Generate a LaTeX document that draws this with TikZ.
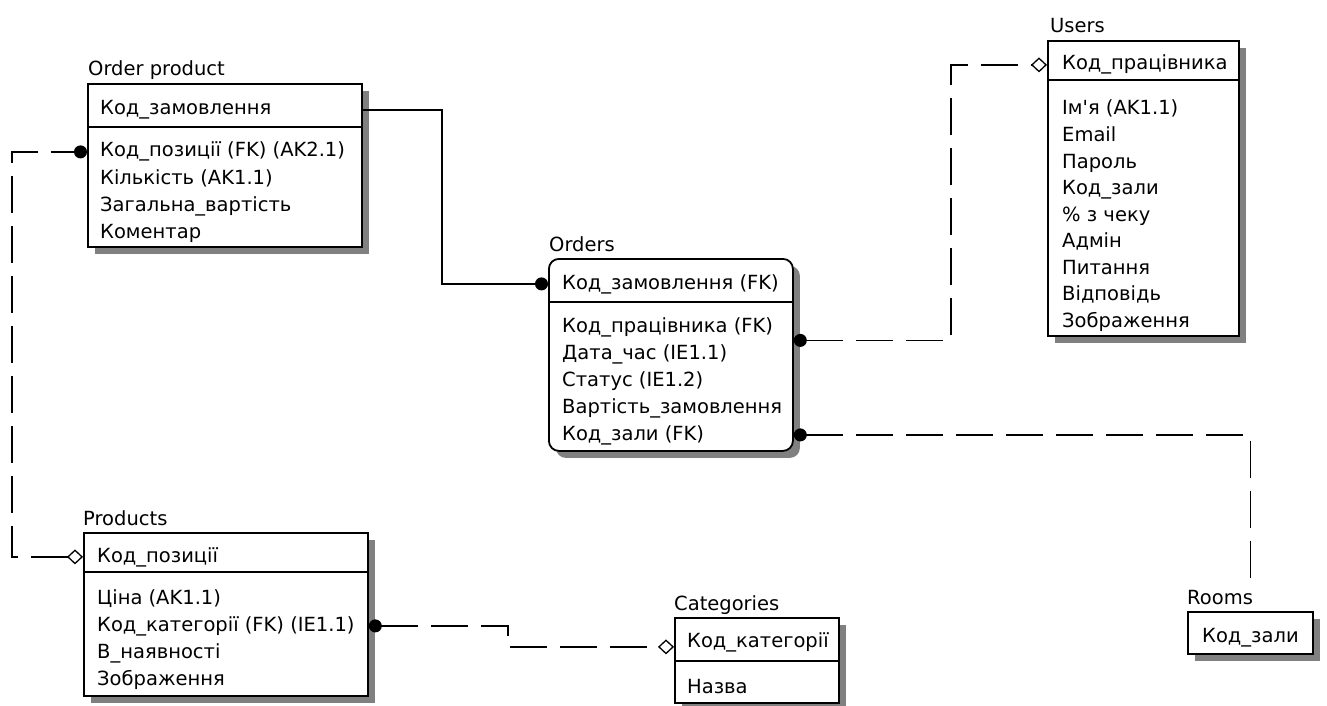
\documentclass[tikz,border=0pt]{standalone}
\usepackage{fontspec}
\setmainfont{DejaVu Sans}
\usetikzlibrary{arrows.meta, positioning, calc, shadows}

\begin{document}
\begin{tikzpicture}[
		x=1pt, y=-1pt,
		every node/.style={font=\fontsize{19.5}{27}\selectfont},
		entity/.style={draw, line width=1.8pt, fill=white, anchor=north west, inner sep=0pt,
			drop shadow={shadow xshift=7pt, shadow yshift=-7pt, fill=black!50, opacity=1}},
		enttitle/.style={anchor=base west, inner sep=0pt},
		attr/.style={anchor=base west, inner sep=0pt},
		divider/.style={line width=1.8pt},
		idrel/.style={line width=1.6pt, -{Circle[length=13pt]}},
		nonidrel/.style={line width=1.6pt, dash pattern=on 37pt off 13pt},
		fkdot/.tip={Circle[length=13pt]},
		nulldia/.tip={Diamond[open, length=16pt, width=15pt, line width=1.3pt]}
	]
	\useasboundingbox (0,0) rectangle (1327,706);

	% Order product
	\node[entity, minimum width=274pt, minimum height=163pt] (op) at (87,83) {};
	\node[enttitle] (op-t) at ($(op.north west)+(1,-7)$) {Order product};
	\draw[divider] ($(op.north west)+(0,44)$) -- ($(op.north east)+(0,44)$);
	\node[attr] (op-k) at ($(op.north west)+(13,32)$) {Код\_замовлення};
	\foreach \txt [count=\i] in {Код\_позиції (FK) (AK2.1), Кількість (AK1.1), Загальна\_вартість, Коментар}
		\node[attr] (op-\i) at ($(op.north west)+(13,47+27*\i)$) {\txt};

	% Orders
	\node[entity, rounded corners=10pt, minimum width=244pt, minimum height=192pt] (ord) at (548,258) {};
	\node[enttitle] (ord-t) at ($(ord.north west)+(1,-7)$) {Orders};
	\draw[divider] ($(ord.north west)+(0,44)$) -- ($(ord.north east)+(0,44)$);
	\node[attr] (ord-k) at ($(ord.north west)+(14,31)$) {Код\_замовлення (FK)};
	\foreach \txt [count=\i] in {Код\_працівника (FK), Дата\_час (IE1.1), Статус (IE1.2), Вартість\_замовлення, Код\_зали (FK)}
		\node[attr] (ord-\i) at ($(ord.north west)+(14,47+27*\i)$) {\txt};

	% Users
	\node[entity, minimum width=191pt, minimum height=295pt] (usr) at (1047,40) {};
	\node[enttitle] (usr-t) at ($(usr.north west)+(3,-7)$) {Users};
	\draw[divider] ($(usr.north west)+(0,40)$) -- ($(usr.north east)+(0,40)$);
	\node[attr] (usr-k) at ($(usr.north west)+(15,30)$) {Код\_працівника};
	\foreach \txt [count=\i] in {Ім\textquotesingle я (AK1.1), Email, Пароль, Код\_зали, \% з чеку, Адмін, Питання, Відповідь, Зображення}
		\node[attr] (usr-\i) at ($(usr.north west)+(15,48.5+26.5*\i)$) {\txt};

	% Products
	\node[entity, minimum width=284pt, minimum height=163pt] (prod) at (83,532) {};
	\node[enttitle] (prod-t) at ($(prod.north west)+(0,-7)$) {Products};
	\draw[divider] ($(prod.north west)+(0,40)$) -- ($(prod.north east)+(0,40)$);
	\node[attr] (prod-k) at ($(prod.north west)+(14,30)$) {Код\_позиції};
	\foreach \txt [count=\i] in {Ціна (AK1.1), Код\_категорії (FK) (IE1.1), В\_наявності, Зображення}
		\node[attr] (prod-\i) at ($(prod.north west)+(14,45+27*\i)$) {\txt};

	% Categories
	\node[entity, minimum width=164pt, minimum height=85pt] (cat) at (674,617) {};
	\node[enttitle] (cat-t) at ($(cat.north west)+(0,-7)$) {Categories};
	\draw[divider] ($(cat.north west)+(0,44)$) -- ($(cat.north east)+(0,44)$);
	\node[attr] (cat-k) at ($(cat.north west)+(13,30)$) {Код\_категорії};
	\node[attr] (cat-1) at ($(cat.north west)+(13,76)$) {Назва};

	% Rooms
	\node[entity, minimum width=125pt, minimum height=42pt] (room) at (1187,611) {};
	\node[enttitle] (room-t) at ($(room.north west)+(0,-7)$) {Rooms};
	\node[attr] (room-k) at ($(room.north west)+(15,31)$) {Код\_зали};

	% Relationships
	\coordinate (opbend) at (442,200);
	\coordinate (leftx) at (12,300);
	\coordinate (usrbend) at (951,200);
	\coordinate (catbend) at (508,630);

	\draw[idrel] (op.east |- op-k) -| (opbend) |- (ord.west |- ord-k);
	\draw[nonidrel, {nulldia}-{fkdot}] (prod.west |- prod-k) -| (leftx) |- (op.west |- op-1);
	\draw[nonidrel, {fkdot}-{nulldia}] ($(ord.east |- ord-1)!0.5!(ord.east |- ord-2)$) -| (usrbend) |- (usr.west |- usr-k);
	\draw[nonidrel, {fkdot}-] (ord.east |- ord-5) -| ($(room.north)+(0,-29)$);
	\draw[nonidrel, {fkdot}-{nulldia}] (prod.east |- prod-2) -| (catbend) |- ($(cat.west |- cat-k)+(0,5)$);
\end{tikzpicture}
\end{document}
